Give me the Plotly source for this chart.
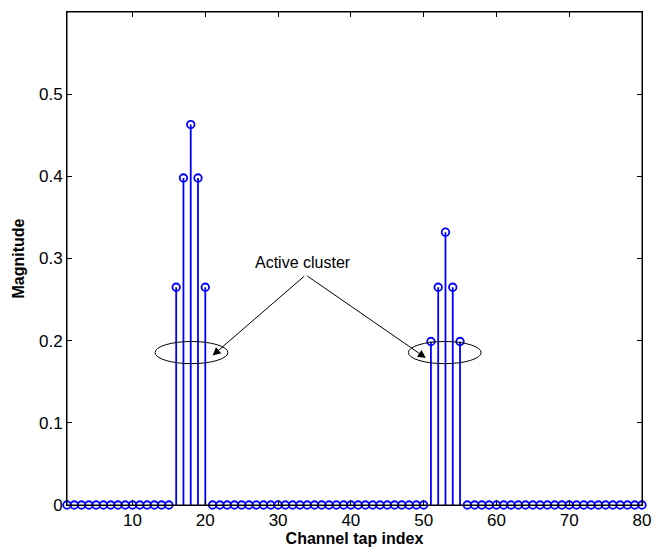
import plotly.graph_objects as go

# Data
tap_index = list(range(1, 81))
active_taps = [16, 17, 18, 19, 20, 51, 52, 53, 54, 55]
active_values = [0.265, 0.398, 0.463, 0.398, 0.265, 0.199, 0.265, 0.332, 0.265, 0.199]
x_ticks = [10, 20, 30, 40, 50, 60, 70, 80]
y_ticks = [0, 0.1, 0.2, 0.3, 0.4, 0.5]
annotation_text = "Active cluster"

val_map = dict(zip(active_taps, active_values))
magnitudes = [val_map.get(i, 0.0) for i in tap_index]

# Stem lines
sx, sy = [], []
for xi, yi in zip(tap_index, magnitudes):
    if yi != 0:
        sx += [xi, xi, None]
        sy += [0, yi, None]

BLUE = "#0000ff"
FONT = "Liberation Sans, Arial, sans-serif"

fig = go.Figure()
fig.add_trace(go.Scatter(x=sx, y=sy, mode="lines",
                         line=dict(color=BLUE, width=1.8),
                         hoverinfo="skip", showlegend=False))
fig.add_trace(go.Scatter(x=tap_index, y=magnitudes, mode="markers",
                         marker=dict(symbol="circle-open", size=7.5,
                                     color=BLUE, line=dict(width=1.8, color=BLUE)),
                         showlegend=False, cliponaxis=False))

# Ellipses
for xc in (18.1, 52.9):
    fig.add_shape(type="circle", xref="x", yref="y",
                  x0=xc - 5.0, x1=xc + 5.0, y0=0.172, y1=0.199,
                  line=dict(color="black", width=1))

# Plot box
fig.add_shape(type="rect", xref="paper", yref="paper", x0=0, x1=1, y0=0, y1=1,
              line=dict(color="black", width=1), layer="above")

# Arrows
for tx, ty in ((21.0, 0.182), (50.3, 0.179)):
    fig.add_annotation(x=tx, y=ty, ax=33.8, ay=0.280,
                       xref="x", yref="y", axref="x", ayref="y",
                       showarrow=True, arrowhead=2, arrowsize=1.6,
                       arrowwidth=1, arrowcolor="black", text="")

fig.add_annotation(x=33.4, y=0.295, xref="x", yref="y",
                   text=annotation_text, showarrow=False,
                   font=dict(family=FONT, size=16, color="black"))

fig.update_layout(
    width=663, height=555,
    margin=dict(l=67, r=21, t=11, b=42),
    paper_bgcolor="white", plot_bgcolor="white",
    font=dict(family=FONT, size=17, color="black"),
    xaxis=dict(range=[1, 80], tickvals=x_ticks, ticks="inside", ticklen=5,
               tickcolor="black", showline=True, linecolor="black", linewidth=1,
               mirror="ticks", showgrid=False, zeroline=False,
               title=dict(text="<b>Channel tap index</b>", standoff=2,
                          font=dict(family=FONT, size=16))),
    yaxis=dict(range=[0, 0.6], tickvals=y_ticks, ticks="inside", ticklen=5,
               tickcolor="black", showline=True, linecolor="black", linewidth=1,
               mirror="ticks", showgrid=False, zeroline=False,
               title=dict(text="<b>Magnitude</b>", standoff=10,
                          font=dict(family=FONT, size=16))),
)

fig.write_html("out.html", config={"displayModeBar": False},
               post_script="document.body.style.margin='0';document.body.style.overflow='hidden';")
